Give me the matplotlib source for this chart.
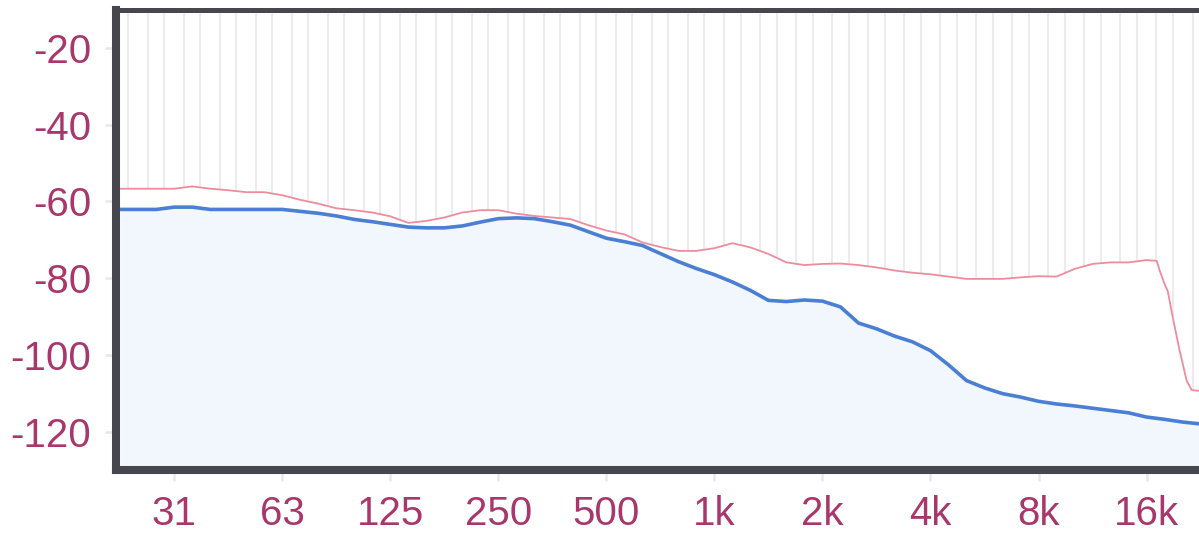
import numpy as np
import matplotlib
matplotlib.use('Agg')
from matplotlib import pyplot as plt
from matplotlib.ticker import NullFormatter

# Frequencies (Hz), sampled roughly every 1/6 octave
freq = [22.1, 24.8, 27.84, 31.25, 35.08, 39.37, 44.19, 49.61, 55.68, 62.5,
        70.15, 78.75, 88.39, 99.21, 111.4, 125, 140.3, 157.5, 176.8, 198.4,
        222.7, 250, 280.6, 315, 353.6, 396.9, 445.4, 500, 561.2, 630,
        707.1, 793.7, 890.9, 1000, 1122, 1260, 1414, 1587, 1782, 2000,
        2245, 2520, 2828, 3175, 3564, 4000, 4490, 5040, 5657, 6350,
        7127, 8000, 8980, 10079, 11314, 12699, 14254, 16000, 17959, 20159, 22627]

# Current level (blue)
level = [-62.1, -62.1, -62.1, -61.5, -61.5, -62.1, -62.1, -62.1, -62.1, -62.1,
         -62.6, -63.1, -63.8, -64.7, -65.3, -66.0, -66.7, -66.9, -66.9, -66.4,
         -65.4, -64.5, -64.3, -64.5, -65.3, -66.2, -67.9, -69.6, -70.5, -71.5,
         -73.6, -75.7, -77.5, -79.1, -81.0, -83.2, -85.8, -86.1, -85.7, -86.0,
         -87.5, -91.7, -93.2, -95.1, -96.6, -98.9, -102.6, -106.7, -108.6, -110.1,
         -111.0, -112.1, -112.8, -113.3, -113.9, -114.5, -115.1, -116.2, -116.8, -117.5, -118.0]

# Peak hold (pink)
peak_freq = [22.1, 24.8, 27.84, 31.25, 35.08, 39.37, 44.19, 49.61, 55.68, 62.5,
             70.15, 78.75, 88.39, 99.21, 111.4, 125, 140.3, 157.5, 176.8, 198.4,
             222.7, 250, 280.6, 315, 353.6, 396.9, 445.4, 500, 561.2, 630,
             707.1, 793.7, 890.9, 1000, 1122, 1260, 1414, 1587, 1782, 2000,
             2245, 2520, 2828, 3175, 3564, 4000, 4490, 5040, 5657, 6350,
             7127, 8000, 8980, 10079, 11314, 12699, 14254, 16000, 17082, 17413,
             17959, 18332, 18935, 19795, 20706, 21391, 22627]
peak = [-56.7, -56.7, -56.7, -56.7, -56.1, -56.7, -57.1, -57.6, -57.6, -58.4,
        -59.6, -60.6, -61.8, -62.3, -62.9, -63.9, -65.6, -65.1, -64.2, -62.9,
        -62.3, -62.3, -63.2, -63.8, -64.2, -64.6, -66.2, -67.6, -68.6, -70.7,
        -71.9, -72.9, -72.9, -72.2, -70.9, -72.0, -73.7, -75.9, -76.6, -76.3,
        -76.2, -76.6, -77.2, -78.0, -78.6, -79.0, -79.6, -80.2, -80.2, -80.2,
        -79.8, -79.5, -79.6, -77.6, -76.3, -75.9, -75.9, -75.3, -75.5, -78.1,
        -81.5, -83.4, -90.3, -99.0, -106.8, -109.2, -109.4]

tick_freqs = [31.25, 62.5, 125, 250, 500, 1000, 2000, 4000, 8000, 16000]
tick_labels = ['31', '63', '125', '250', '500', '1k', '2k', '4k', '8k', '16k']
y_ticks = [-120, -100, -80, -60, -40, -20]

label_color = '#a8376c'
frame_color = '#46464e'

plt.rcParams['font.family'] = ['Liberation Sans', 'DejaVu Sans']
plt.rcParams['axes.unicode_minus'] = False

fig = plt.figure(figsize=(11.99, 5.33), dpi=100)
ax = fig.add_axes([116 / 1199, 63 / 533, 1 - 116 / 1199, 460.5 / 533])

# column grid: pairs of lines around each 1/3 octave centre
centres = 1000 * 2 ** (np.arange(-17, 15) / 3)
grid_lines = np.sort(np.concatenate([centres * 2 ** -0.092, centres * 2 ** 0.092]))
ax.set_xscale('log')
ax.set_xticks(grid_lines, minor=True)
ax.xaxis.set_minor_formatter(NullFormatter())
ax.grid(which='minor', axis='x', color='#ececec', linewidth=1.5, zorder=0)
ax.tick_params(which='minor', length=0)
ax.set_axisbelow(True)

# white under the peak curve hides the grid
ax.fill_between(peak_freq, peak, -130, color='white', zorder=1, linewidth=0)
ax.fill_between(freq, level, -130, color='#f2f6fd', zorder=2, linewidth=0)
ax.plot(peak_freq, peak, color='#ec8d9e', linewidth=1.3, zorder=3)
ax.plot(freq, level, color='#4a7fd3', linewidth=2.6, zorder=4)

ax.set_xlim(21.5, 22400)
ax.set_ylim(-130, -10)
ax.set_xticks(tick_freqs)
ax.set_xticklabels(tick_labels)
ax.set_yticks(y_ticks)
ax.tick_params(which='major', length=8, width=1.8, color='#e8e8e8',
               labelcolor=label_color, labelsize=29, pad=10)

for side in ['left', 'bottom']:
    ax.spines[side].set_linewidth(5.8)
    ax.spines[side].set_color(frame_color)
ax.spines['top'].set_linewidth(3.6)
ax.spines['top'].set_color(frame_color)
ax.spines['right'].set_visible(False)
for s in ax.spines.values():
    s.set_zorder(5)

plt.savefig('out.png', dpi=100)
